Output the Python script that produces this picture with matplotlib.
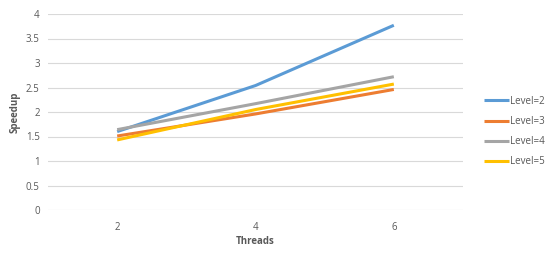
import matplotlib
matplotlib.use('Agg')
import matplotlib.pyplot as plt

threads = ['2', '4', '6']
level2 = [1.60, 2.54, 3.77]
level3 = [1.51, 1.96, 2.46]
level4 = [1.64, 2.17, 2.72]
level5 = [1.43, 2.05, 2.57]
series_names = ['Level=2', 'Level=3', 'Level=4', 'Level=5']
colors = ['#5B9BD5', '#ED7D31', '#A5A5A5', '#FFC000']

plt.rcParams['font.family'] = ['Open Sans', 'DejaVu Sans']

fig = plt.figure(figsize=(5.5, 2.54), dpi=100)
ax = fig.add_axes([48 / 550, 44 / 254, 415 / 550, 196 / 254])

x = range(len(threads))
for vals, name, c in zip([level2, level3, level4, level5], series_names, colors):
    ax.plot(x, vals, color=c, linewidth=2.2, label=name, solid_capstyle='butt')

ax.set_xlim(-0.5, len(threads) - 0.5)
ax.set_ylim(0, 4)
ax.set_yticks([0, 0.5, 1, 1.5, 2, 2.5, 3, 3.5, 4])
ax.set_yticklabels(['0', '0.5', '1', '1.5', '2', '2.5', '3', '3.5', '4'])
ax.set_xticks(list(x))
ax.set_xticklabels(threads)
ax.grid(True, axis='y', color='#D9D9D9', linewidth=0.8)
ax.set_axisbelow(True)
for s in ax.spines.values():
    s.set_visible(False)
ax.tick_params(length=0, labelsize=7, colors='#595959', pad=6)
ax.tick_params(axis='x', pad=9)

ax.set_xlabel('Threads', fontsize=7, fontweight='bold', color='#595959', labelpad=2)
ax.set_ylabel('Speedup', fontsize=7, fontweight='bold', color='#595959', labelpad=4)

leg = ax.legend(loc='center left', bbox_to_anchor=(1.03, 0.40), frameon=False,
                fontsize=7, handlelength=2.6, handletextpad=0.1, labelspacing=0.95)
for t in leg.get_texts():
    t.set_color('#595959')

fig.savefig('out.png', dpi=100)
